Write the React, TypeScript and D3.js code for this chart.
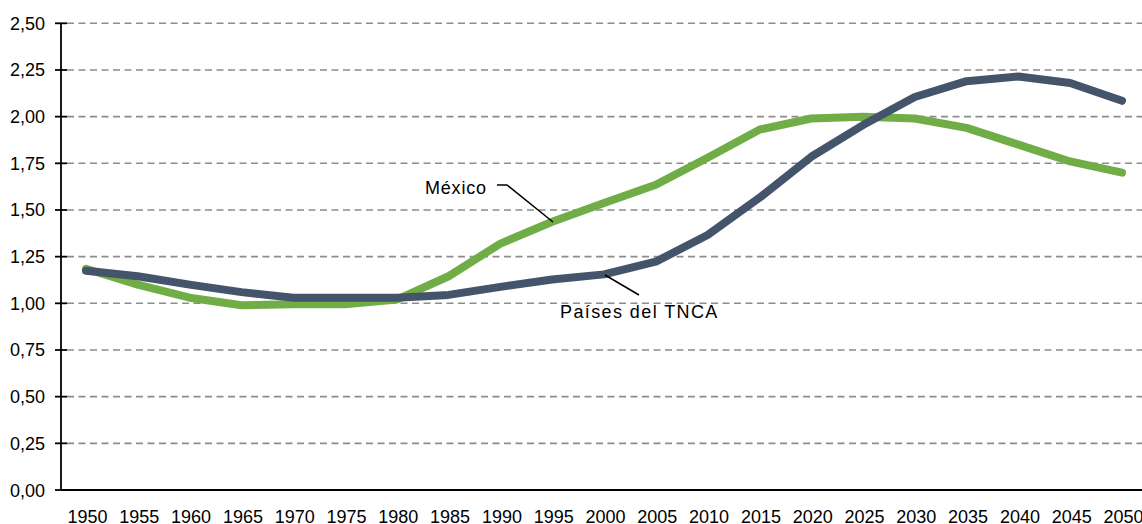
import React from "react";
import * as d3 from "d3";

const years = ["1950","1955","1960","1965","1970","1975","1980","1985","1990","1995","2000","2005","2010","2015","2020","2025","2030","2035","2040","2045","2050"];
const mexico = [1.185, 1.10, 1.03, 0.99, 0.995, 0.995, 1.02, 1.145, 1.32, 1.437, 1.537, 1.635, 1.78, 1.93, 1.99, 2.0, 1.99, 1.94, 1.85, 1.76, 1.70];
const tnca = [1.175, 1.145, 1.10, 1.06, 1.03, 1.03, 1.03, 1.045, 1.088, 1.128, 1.155, 1.223, 1.366, 1.565, 1.785, 1.955, 2.105, 2.19, 2.215, 2.18, 2.085];
const yTicks = [0, 0.25, 0.5, 0.75, 1.0, 1.25, 1.5, 1.75, 2.0, 2.25, 2.5];

const W = 1142, H = 524;
const FONT = "'Liberation Sans', Arial, sans-serif";

export default function App() {
  const x = d3.scalePoint<string>().domain(years).range([86, 1122]);
  const y = d3.scaleLinear().domain([0, 2.5]).range([490, 23.3]);
  const line = d3.line<number>()
    .x((_, i) => x(years[i]) as number)
    .y((d) => y(d));
  const fmt = (v: number) => v.toFixed(2).replace(".", ",");
  const axisX = 61;
  return (
    <svg width={W} height={H} style={{ position: "absolute", left: 0, top: 0, background: "#fff" }}>
      {yTicks.slice(1).map((t) => (
        <line key={"g" + t} x1={67} x2={W} y1={y(t)} y2={y(t)} stroke="#8c8c8c" strokeWidth={1.6} strokeDasharray="7,4.5" />
      ))}
      {yTicks.map((t) => (
        <g key={"t" + t}>
          <line x1={55} x2={67} y1={y(t)} y2={y(t)} stroke="#000" strokeWidth={1.8} />
          <text x={45} y={y(t) + 6.5} textAnchor="end" fontFamily={FONT} fontSize={18} fill="#000">{fmt(t)}</text>
        </g>
      ))}
      <line x1={axisX} x2={axisX} y1={y(2.5)} y2={y(0)} stroke="#000" strokeWidth={1.8} />
      <line x1={axisX} x2={W} y1={y(0)} y2={y(0)} stroke="#000" strokeWidth={1.8} />
      {years.map((yr) => (
        <text key={yr} x={(x(yr) as number) + 1.5} y={523} textAnchor="middle" fontFamily={FONT} fontSize={18} fill="#000">{yr}</text>
      ))}
      <path d={line(mexico) || ""} fill="none" stroke="#70ad47" strokeWidth={8} strokeLinecap="round" strokeLinejoin="round" />
      <path d={line(tnca) || ""} fill="none" stroke="#44546a" strokeWidth={8} strokeLinecap="round" strokeLinejoin="round" />
      <text x={425} y={194} fontFamily={FONT} fontSize={18} letterSpacing={0.8} fill="#000">México</text>
      <polyline points="497,185 507,185 553,222" fill="none" stroke="#000" strokeWidth={1.5} />
      <text x={560} y={318} fontFamily={FONT} fontSize={18} letterSpacing={1.4} fill="#000">Países del TNCA</text>
      <polyline points="605,275 639,295" fill="none" stroke="#000" strokeWidth={1.5} />
    </svg>
  );
}
